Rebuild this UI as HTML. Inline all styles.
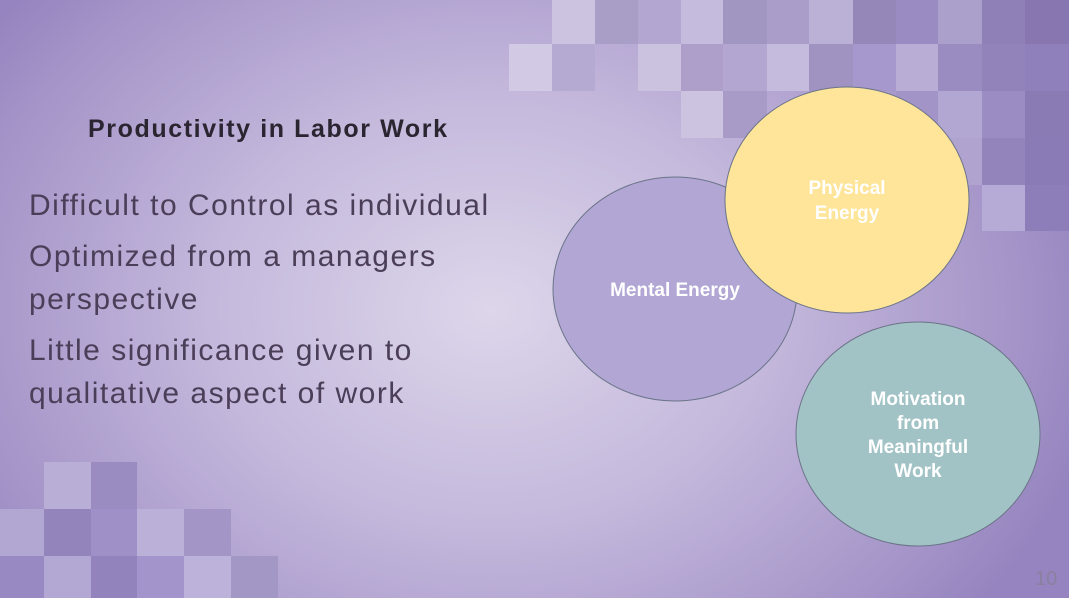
<!DOCTYPE html>
<html><head><meta charset="utf-8"><style>
html,body{margin:0;padding:0}
body{width:1069px;height:598px;overflow:hidden;position:relative;font-family:"Liberation Sans",sans-serif;
background:radial-gradient(ellipse 620px 480px at 490px 310px,#ddd6ea 0%,#c4b8dc 45%,#a494c8 85%,#9584bf 100%);}
.t{position:absolute;}
</style></head><body>
<svg width="1069" height="598" style="position:absolute;left:0;top:0">
<g id="tiles"></g>
<g>
<ellipse cx="675" cy="289" rx="122" ry="112" fill="#b1a6d4" stroke="#6b7488" stroke-width="1"/>
<ellipse cx="847" cy="200" rx="122" ry="113" fill="#fee599" stroke="#6b7488" stroke-width="1"/>
<ellipse cx="918" cy="434" rx="122" ry="112" fill="#a2c3c6" stroke="#6b7488" stroke-width="1"/>
</g>
<g font-family="Liberation Sans, sans-serif" font-weight="bold" font-size="19" fill="#fff" text-anchor="middle">
<text x="675" y="296">Mental Energy</text>
<text x="847" y="194">Physical<tspan x="847" dy="25">Energy</tspan></text>
<text x="918" y="405">Motivation<tspan x="918" dy="24">from</tspan><tspan x="918" dy="24">Meaningful</tspan><tspan x="918" dy="24">Work</tspan></text>
</g>
</svg>
<div class="t" style="left:88px;top:115px;font-size:25px;font-weight:bold;color:#2a2530;letter-spacing:1.6px">Productivity in Labor Work</div>
<div class="t" style="left:29px;top:184px;font-size:30px;color:#4a3e58;line-height:43px;width:480px;letter-spacing:1.5px">
<div style="margin-bottom:8px">Difficult to Control as individual</div>
<div style="margin-bottom:8px">Optimized from a managers perspective</div>
<div>Little significance given to qualitative aspect of work</div>
</div>
<div class="t" style="left:1035px;top:568px;font-size:20px;color:#8a80a0">10</div>
<script>
const tiles=[
[552,0,43,44,'#ccc3e0'],[595,0,43,44,'#a99fc6'],[638,0,43,44,'#b3a7d2'],[681,0,42,44,'#c5bbdd'],[723,0,44,44,'#a196c2'],[767,0,42,44,'#aa9dca'],[809,0,44,44,'#bbb0d6'],[853,0,43,44,'#9588b8'],[896,0,42,44,'#9a8cc2'],[938,0,44,44,'#ab9fcc'],[982,0,43,44,'#8f80b8'],[1025,0,44,44,'#8776b0'],
[509,44,43,47,'#d2c9e4'],[552,44,43,47,'#b5abd2'],[638,44,43,47,'#cbc2e0'],[681,44,42,47,'#ad9fca'],[723,44,44,47,'#b3a7d2'],[767,44,42,47,'#c4bbdd'],[809,44,44,47,'#a093c2'],[853,44,43,47,'#a698cc'],[896,44,42,47,'#b9add6'],[938,44,44,47,'#9a8bc0'],[982,44,43,47,'#9383bb'],[1025,44,44,47,'#8f7fbb'],
[681,91,42,47,'#ccc3e0'],[723,91,44,47,'#a89bc8'],[896,91,42,47,'#a394c8'],[938,91,44,47,'#b2a6d2'],[982,91,43,47,'#9c8cc4'],[1025,91,44,47,'#8b7bb5'],
[938,138,44,47,'#b0a3d0'],[982,138,43,47,'#9484bc'],[1025,138,44,47,'#8a7ab5'],
[982,185,43,46,'#b6aad6'],[1025,185,44,46,'#8d7db8'],
[44,462,47,47,'#b9aed6'],[91,462,46,47,'#9a8cc0'],
[0,509,44,47,'#b2a6d2'],[44,509,47,47,'#9384bc'],[91,509,46,47,'#9f90c8'],[137,509,47,47,'#bbb0d8'],[184,509,47,47,'#a396c6'],
[0,556,44,42,'#9989c2'],[44,556,47,42,'#b3a7d3'],[91,556,46,42,'#9383bc'],[137,556,47,42,'#a394cc'],[184,556,47,42,'#bdb2da'],[231,556,47,42,'#a397c6']
];
const g=document.getElementById('tiles');
const ns='http://www.w3.org/2000/svg';
tiles.forEach(t=>{
 const r=document.createElementNS(ns,'rect');
 r.setAttribute('x',t[0]);r.setAttribute('y',t[1]);r.setAttribute('width',t[2]);r.setAttribute('height',t[3]);r.setAttribute('fill',t[4]);
 
 
 g.appendChild(r);
});
</script>
</body></html>
